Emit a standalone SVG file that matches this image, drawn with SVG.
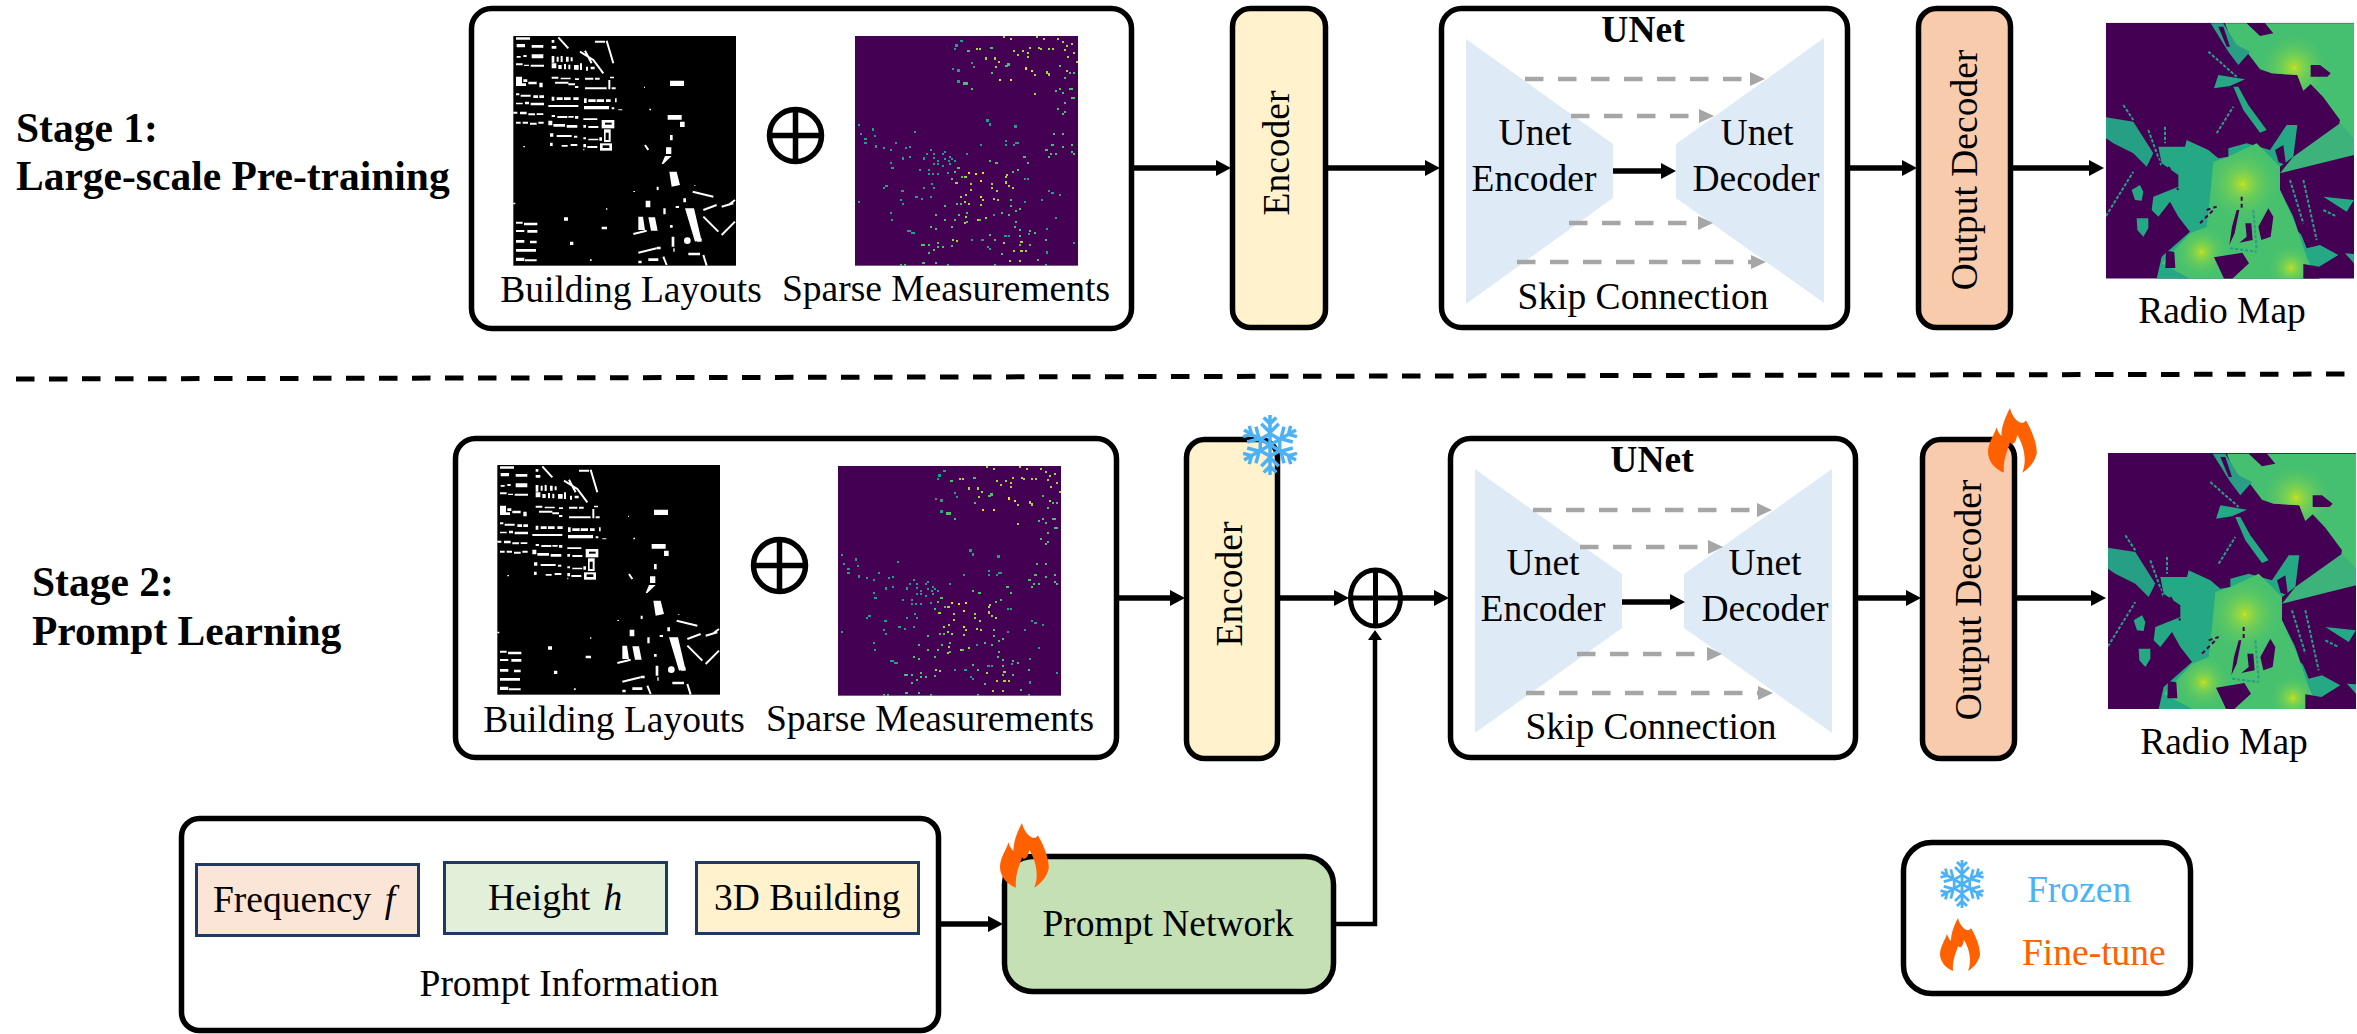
<svg xmlns="http://www.w3.org/2000/svg" width="2357" height="1034" viewBox="0 0 2357 1034">
<style>
text{font-family:"Liberation Serif","Times New Roman",serif;font-size:37.5px;fill:#000}
.mid{text-anchor:middle}
.stage{font-size:41.5px;font-weight:bold}
.bold{font-weight:bold}
.frame{fill:#fff;stroke:#000;stroke-width:5.5}
.enc{fill:#fff2cc;stroke:#000;stroke-width:5.5}
.dec{fill:#f8cbad;stroke:#000;stroke-width:5.5}
.pn{fill:#c5e0b4;stroke:#000;stroke-width:5.5}
.pb{stroke:#203864;stroke-width:3}
.ushape{fill:#deebf7}
.a{fill:none;stroke:#000;stroke-width:5.5;marker-end:url(#ah)}
.av{fill:none;stroke:#000;stroke-width:4.5;marker-end:url(#ahs)}
.s{fill:none;stroke:#a6a6a6;stroke-width:4.5;stroke-dasharray:18.5 14.5;marker-end:url(#gh)}
.op{fill:none;stroke:#000;stroke-width:5.5}
.dot{fill:none;stroke-width:7;stroke-linecap:square;shape-rendering:crispEdges}
</style>
<defs>
<marker id="ah" markerUnits="userSpaceOnUse" markerWidth="15" markerHeight="16" refX="0" refY="8" orient="auto"><path d="M0 0L15 8L0 16Z" fill="#000"/></marker>
<marker id="ahs" markerUnits="userSpaceOnUse" markerWidth="10" markerHeight="14" refX="0" refY="7" orient="auto"><path d="M0 0L10 7L0 14Z" fill="#000"/></marker>
<marker id="gh" markerUnits="userSpaceOnUse" markerWidth="15" markerHeight="14" refX="0" refY="7" orient="auto"><path d="M0 0L15 7L0 14Z" fill="#a6a6a6"/></marker>
<radialGradient id="hot"><stop offset="0" stop-color="#d8e219"/><stop offset=".07" stop-color="#a8db34"/><stop offset=".35" stop-color="#7ad151" stop-opacity=".9"/><stop offset="1" stop-color="#55c667" stop-opacity="0"/></radialGradient>
<clipPath id="rcA"><polygon points="405,40 470,40 510,78 550,70 525,40 792,40 792,430 748,340 750,330 700,262 662,222 640,242 622,195 545,190 510,178 470,125 430,105"/></clipPath>
<clipPath id="rcB"><polygon points="370,455 415,440 500,400 570,470 570,540 615,640 650,740 680,806 300,806 215,760 300,670 350,650 360,560"/></clipPath>
<clipPath id="rcF"><rect x="48" y="38" width="744" height="768"/></clipPath>

<g id="layout">
<rect x="40" y="18" width="668" height="689" fill="#000"/>
<path fill="#fff" d="M48 22h42v7h-42zM50 42h25v10h-25zM95 45h35v8h-35zM155 30h8v8h-8zM155 48h14v8h-14zM285 32h30v6h-30zM50 78h12v5h-12zM70 75h10v6h-10zM95 73h35v12h-35zM48 100h20v6h-20zM72 104h15v4h-15zM92 104h40v6h-40zM155 78h8v20h-8zM170 80h6v15h-6zM182 78h6v18h-6zM198 80h8v15h-8zM212 82h6v12h-6zM155 100h14v15h-14zM175 105h10v12h-10zM192 102h6v16h-6zM205 104h6v14h-6zM222 105h14v14h-14zM240 100h6v20h-6zM258 110h6v12h-6zM272 110h12v8h-12zM48 140h18v20h-18zM70 148h12v8h-12zM48 160h30v8h-30zM85 155h25v8h-25zM118 158h10v14h-10zM155 140h20v6h-20zM182 143h30v5h-30zM225 145h12v5h-12zM255 143h25v6h-25zM285 143h14v6h-14zM330 140h12v5h-12zM165 155h40v6h-40zM205 160h20v6h-20zM225 168h10v6h-10zM255 172h65v6h-65zM325 150h6v28h-6zM335 172h12v6h-12zM48 190h10v6h-10zM62 194h30v6h-30zM100 196h14v8h-14zM118 196h14v8h-14zM48 218h20v5h-20zM75 215h12v8h-12zM92 218h40v8h-40zM155 200h8v12h-8zM170 202h18v8h-18zM192 202h20v8h-20zM220 202h16v8h-16zM145 225h90v6h-90zM252 205h8v14h-8zM265 208h22v8h-22zM290 208h22v8h-22zM318 208h14v8h-14zM345 205h5v12h-5zM252 228h75v10h-75zM335 232h8v6h-8zM355 238h12v3h-12zM40 245h12v6h-12zM60 245h20v8h-20zM85 250h20v6h-20zM110 250h20v5h-20zM48 275h14v6h-14zM68 275h16v6h-16zM90 278h20v6h-20zM115 275h16v6h-16zM155 255h10v6h-10zM172 258h30v6h-30zM205 258h16v5h-16zM225 258h10v8h-10zM250 265h42v5h-42zM145 272h12v14h-12zM160 282h35v8h-35zM200 285h32v8h-32zM250 285h8v8h-8zM265 288h30v6h-30zM150 310h10v10h-10zM170 315h45v6h-45zM222 317h10v6h-10zM250 322h8v6h-8zM265 326h30v5h-30zM298 322h8v10h-8zM150 338h8v10h-8zM185 345h18v5h-18zM212 342h20v6h-20zM250 342h8v10h-8zM262 348h30v6h-30zM70 348h5v4h-5zM250 356h3v5h-3zM510 152h42v16h-42zM432 170h3v4h-3zM448 236h5v5h-5zM503 255h42v14h-42zM540 275h14v16h-14zM510 315h8v16h-8zM498 352h16v20h-16zM400 483h5v3h-5zM470 470h6v10h-6zM583 465h3v3h-3zM40 518h6v5h-6zM318 535h4v4h-4zM192 562h12v10h-12zM527 528h10v6h-10zM550 505h8v12h-8zM490 535h7v18h-7zM437 512h14v20h-14zM305 590h16v8h-16zM510 585h8v8h-8zM515 620h8v30h-8zM520 655h4v10h-4zM48 575h20v6h-20zM72 578h40v8h-40zM48 600h25v6h-25zM82 600h30v8h-30zM48 630h25v8h-25zM90 632h20v8h-20zM48 657h60v8h-60zM48 683h25v10h-25zM75 688h35v6h-35zM210 635h10v10h-10zM270 688h5v5h-5zM470 650h12v8h-12zM415 692h10v8h-10zM445 685h30v8h-30zM565 668h35v8h-35zM495 378h20l-25 24h-5zM508 425h22l10 40l-25 5zM555 535h27l21 90l-18 10zM415 560h14l6 40h-20zM445 562h20l8 40h-20zM590 625h15v10h-15z"/>
<rect x="305" y="270" width="38" height="25" fill="#fff"/><rect x="315" y="278" width="20" height="6" fill="#000"/>
<rect x="312" y="298" width="20" height="38" fill="#fff"/><rect x="317" y="308" width="9" height="22" fill="#000"/>
<rect x="300" y="340" width="36" height="22" fill="#fff"/><rect x="308" y="346" width="20" height="8" fill="#000"/>
<circle cx="562" cy="632" r="10" fill="#fff"/>
<path fill="none" stroke="#fff" stroke-width="6" d="M175 22L205 55M320 32L340 100M240 65L280 90L310 130M255 62L275 100M435 345L445 360M578 485L640 500M610 540L650 525M665 530L700 520M685 525L705 510M610 560L655 605M665 615L705 575M400 612L440 602M415 668L470 655M490 680L500 705M610 675L620 707"/>
</g>

<g id="sparse">
<rect x="15" y="18" width="669" height="689" fill="#440154"/>
<path class="dot" stroke="#1fa187" d="M335 33h0M320 47h0M315 58h0M367 100h0M310 117h0M326 122h0M372 112h0M326 155h0M413 272h0M420 284h0M497 290h0M27 285h0M33 312h0M69 299h0M75 318h0M47 327h0M47 339h0M195 306h0M138 339h0M78 350h0M102 354h0M123 360h0M159 386h0M181 381h0M180 352h0M168 354h0M123 399h0M128 414h0M210 420h0M222 386h0M231 372h0M243 360h0M252 372h0M252 384h0M264 393h0M252 402h0M264 402h0M279 408h0M285 366h0M279 372h0M300 381h0M285 387h0M306 387h0M297 393h0M315 393h0M300 402h0M237 420h0M237 432h0M264 433h0M249 432h0M468 333h0M468 345h0M498 339h0M504 339h0M492 345h0M393 345h0M351 372h0M27 516h0M102 474h0M110 468h0M158 484h0M200 501h0M222 474h0M252 474h0M246 462h0M216 507h0M243 501h0M159 522h0M153 510h0M123 549h0M127 570h0M175 603h0M181 603h0M187 609h0M193 609h0M525 516h0M576 510h0M597 484h0M608 489h0M630 495h0M525 447h0M534 447h0M618 564h0M432 555h0M398 630h0M414 651h0M420 657h0M367 630h0M467 618h0M477 618h0M537 612h0M592 597h0M592 668h0M672 639h0M294 430h0"/>
<path class="dot" stroke="#4ac16d" d="M356 63h0M425 54h0M342 161h0M350 161h0M367 177h0M426 129h0M476 104h0M470 108h0M645 144h0M618 183h0M630 177h0M639 189h0M660 177h0M666 177h0M645 219h0M624 237h0M645 246h0M639 252h0M666 204h0M672 204h0M660 129h0M672 129h0M630 108h0M666 345h0M666 366h0M672 372h0M639 312h0M612 312h0M639 352h0M608 345h0M590 360h0M603 372h0M618 372h0M597 381h0M524 381h0M534 399h0M440 399h0M420 393h0M504 420h0M489 426h0M315 426h0M326 414h0M306 447h0M336 441h0M258 555h0M285 528h0M285 570h0M306 591h0M327 555h0M321 522h0M333 522h0M351 549h0M351 576h0M315 570h0M456 549h0M477 555h0M498 543h0M510 537h0M483 528h0M483 510h0M510 600h0M498 576h0M495 592h0M540 603h0M555 609h0M510 618h0M435 630h0M420 615h0M390 570h0M306 648h0M222 645h0M216 645h0M237 669h0M252 660h0M237 645h0M264 651h0M279 651h0M264 639h0M243 591h0M258 597h0M221 699h0M258 699h0M153 705h0M165 705h0M435 705h0M294 705h0M588 705h0M456 672h0M510 645h0M540 645h0M565 690h0M588 630h0"/>
<path class="dot" stroke="#a0da39" d="M462 21h0M483 27h0M561 21h0M582 27h0M624 27h0M639 36h0M666 42h0M651 48h0M645 60h0M540 54h0M567 54h0M573 58h0M598 58h0M610 58h0M519 63h0M504 75h0M534 69h0M534 81h0M492 63h0M447 96h0M555 135h0M591 128h0M597 134h0M651 123h0M672 69h0M681 96h0M655 81h0M555 192h0M381 58h0M390 58h0M408 86h0M435 86h0M438 112h0M347 441h0M363 462h0M426 462h0M426 474h0M363 480h0M348 495h0M333 501h0M399 510h0M393 525h0M346 516h0M357 522h0M432 507h0M445 510h0M468 441h0M471 435h0M477 468h0M489 474h0M468 458h0M441 484h0M408 564h0M384 570h0M348 561h0M345 580h0M310 630h0M321 633h0M462 640h0M492 663h0M515 663h0M528 663h0M515 636h0M480 693h0M510 693h0M320 460h0"/>
<path class="dot" stroke="#e5e419" d="M529 116h0M546 123h0M483 150h0M450 150h0M378 432h0M393 453h0M357 429h0M399 430h0M393 501h0"/>
</g>

<g id="radio" clip-path="url(#rcF)">
<rect x="48" y="38" width="744" height="768" fill="#440154"/>
<polygon fill="#45bf70" points="405,40 470,40 510,78 550,70 525,40 792,40 792,430 748,340 750,330 700,262 662,222 640,242 622,195 545,190 510,178 470,125 430,105"/>
<circle cx="613" cy="173" r="100" fill="url(#hot)" clip-path="url(#rcA)"/>
<polygon fill="#440154" points="662,165 690,165 722,190 712,200 662,200"/>
<polygon fill="#2a9d85" points="362,40 400,40 440,105 480,125 445,165 415,125"/>
<polygon fill="#440154" points="385,50 400,50 420,110 410,110"/>
<polygon fill="#25a884" points="385,195 465,208 420,228 372,235"/>
<polygon fill="#25a884" points="430,230 445,230 475,285 530,360 510,368 460,300"/>
<polygon fill="#3db27a" points="750,340 792,385 792,435 570,490 610,440"/>
<polygon fill="#25a085" points="48,322 130,335 190,430 170,470 130,430 70,400 48,385"/>
<polygon fill="#25a884" points="205,410 285,410 290,390 355,420 385,445 415,440 415,415 470,400 540,420 590,345 622,345 610,440 570,470 570,540 620,640 650,715 690,705 745,735 680,775 685,806 200,806 215,740 300,665 265,620 240,575 205,620 185,600 190,560 265,530 265,495 215,460"/>
<polygon fill="#48c16e" points="370,455 415,440 500,400 570,470 570,540 615,640 650,740 680,806 300,806 215,760 300,670 350,650 360,560"/>
<g clip-path="url(#rcB)"><circle cx="458" cy="522" r="105" fill="url(#hot)"/><circle cx="335" cy="726" r="75" fill="url(#hot)"/><circle cx="603" cy="773" r="65" fill="url(#hot)"/></g>
<path fill="#440154" d="M440 600h8l-14 70l-16 35l8 -55zM466 640h18l4 50l-40 8l22 -18zM505 650l30 -55l15 25l-8 60l-28 10zM372 742l85 -14l20 32l-50 46h-25l-12 -26zM610 620l20 5l15 60l-20 -20zM228 722l25 4l3 48h-30zM640 762l48 8v36h-48zM555 420l25 -15l8 60l-22 -8z"/>
<path fill="#25a884" d="M125 540l25 -15l10 20l-5 27l-20 -2zM140 625h35v30l-15 25l-18 -20zM700 560l92 10l-22 35zM765 730l27 2v28z"/>
<path fill="none" stroke="#2a9d85" stroke-width="6" stroke-dasharray="10 5" d="M48 618L130 485M175 360L215 470M225 350V400M100 285L130 330M355 125L440 200M380 370L430 290M640 510L680 690M600 510L640 640M700 600L740 620M490 600L500 720M420 715L500 725"/>
<path fill="none" stroke="#440154" stroke-width="6" stroke-dasharray="12 9" d="M190 430L265 540M235 470L265 520M350 600L380 590M330 640L370 600M455 560V600"/>
</g>

<path id="flameShape" fill="#ff6000" d="M18 0C20 9 28 16 31 10C38 22 40 31 40 37C38 45 33 50 28 53C32 44 30 32 24 22C23 29 20 31 18 28C17 33 12 41 13 53C6 50 0 44 0 36C0 29 5 22 7 16C8 19 9 21 11 23C11 14 15 6 18 0Z"/>
<g id="snow" fill="none" stroke="#4db2f5" stroke-width="2.8">
<path id="arm" d="M0 0V-24M-5 -22L0 -17L5 -22M-7 -17L0 -10L7 -17"/>
<use href="#arm" transform="rotate(60)"/><use href="#arm" transform="rotate(120)"/><use href="#arm" transform="rotate(180)"/><use href="#arm" transform="rotate(240)"/><use href="#arm" transform="rotate(300)"/>
<polygon points="0,-9 7.8,-4.5 7.8,4.5 0,9 -7.8,4.5 -7.8,-4.5"/>
</g>
</defs>

<g id="stage-labels">
<text class="stage" x="16" y="142">Stage 1:</text>
<text class="stage" x="16" y="190">Large-scale Pre-training</text>
<text class="stage" x="32" y="596">Stage 2:</text>
<text class="stage" x="32" y="645">Prompt Learning</text>
<path d="M16 379L2357 374" fill="none" stroke="#000" stroke-width="5" stroke-dasharray="18.5 14.5"/>
</g>

<g id="input-1">
<rect class="frame" x="471.5" y="8.5" width="660" height="320" rx="20"/>
<use href="#layout" transform="translate(500 30) scale(.33333)"/>
<use href="#sparse" transform="translate(850 30) scale(.33333)"/>
<ellipse class="op" cx="795.5" cy="135.5" rx="26" ry="26"/>
<path class="op" d="M769.5 135.5H821.5M795.5 109.5V161.5"/>
<text class="mid" x="631" y="302">Building Layouts</text>
<text class="mid" x="946" y="301">Sparse Measurements</text>
</g>
<g id="encoder-1">
<rect class="enc" x="1232.5" y="8.5" width="93" height="319" rx="18"/>
<text class="mid" transform="translate(1289 153) rotate(-90)">Encoder</text>
</g>
<g id="unet-1">
<rect class="frame" x="1441.5" y="8.5" width="406" height="319" rx="20"/>
<polygon class="ushape" points="1466,39 1613,144 1613,198 1466,304"/>
<polygon class="ushape" points="1824,38 1676,144 1676,198 1824,303"/>
<text class="mid bold" x="1643" y="42">UNet</text>
<text class="mid" x="1535" y="145">Unet</text>
<text class="mid" x="1534" y="191">Encoder</text>
<text class="mid" x="1757" y="145">Unet</text>
<text class="mid" x="1756" y="191">Decoder</text>
<text class="mid" x="1643" y="309">Skip Connection</text>
</g>
<g id="decoder-1">
<rect class="dec" x="1918.5" y="8.5" width="92" height="319" rx="18"/>
<text class="mid" transform="translate(1977 170) rotate(-90)">Output Decoder</text>
</g>
<g id="radio-map-1">
<use href="#radio" transform="translate(2090 10) scale(.33333)"/>
<text class="mid" x="2222" y="323">Radio Map</text>
</g>

<g id="input-2">
<rect class="frame" x="455.5" y="438.5" width="661" height="319" rx="20"/>
<use href="#layout" transform="translate(484 459) scale(.33333)"/>
<use href="#sparse" transform="translate(833 460) scale(.33333)"/>
<ellipse class="op" cx="779.5" cy="565.5" rx="26" ry="26"/>
<path class="op" d="M753.5 565.5H805.5M779.5 539.5V591.5"/>
<text class="mid" x="614" y="732">Building Layouts</text>
<text class="mid" x="930" y="731">Sparse Measurements</text>
</g>
<g id="encoder-2">
<rect class="enc" x="1186.5" y="439.5" width="91" height="319" rx="18"/>
<text class="mid" transform="translate(1242 584) rotate(-90)">Encoder</text>
<use href="#snow" transform="translate(1270 445) scale(1.25)"/>
</g>
<g id="merge">
<ellipse fill="#fff" stroke="#000" stroke-width="5" cx="1375.5" cy="598" rx="25" ry="28"/>
<path fill="none" stroke="#000" stroke-width="5" d="M1351 598H1400M1375.5 570V626"/>
</g>
<g id="unet-2">
<rect class="frame" x="1450.5" y="438.5" width="405" height="319" rx="20"/>
<polygon class="ushape" points="1475,469 1622,574 1622,628 1475,733"/>
<polygon class="ushape" points="1832,469 1684,574 1684,628 1832,733"/>
<text class="mid bold" x="1652" y="472">UNet</text>
<text class="mid" x="1543" y="575">Unet</text>
<text class="mid" x="1543" y="621">Encoder</text>
<text class="mid" x="1765" y="575">Unet</text>
<text class="mid" x="1765" y="621">Decoder</text>
<text class="mid" x="1651" y="739">Skip Connection</text>
</g>
<g id="decoder-2">
<rect class="dec" x="1922.5" y="439.5" width="92" height="319" rx="18"/>
<text class="mid" transform="translate(1981 600) rotate(-90)">Output Decoder</text>
<use href="#flameShape" transform="translate(1988 408) scale(1.22)"/>
</g>
<g id="radio-map-2">
<use href="#radio" transform="translate(2092 440.33) scale(.33333)"/>
<text class="mid" x="2224" y="754">Radio Map</text>
</g>

<g id="prompt-information">
<rect class="frame" x="181.5" y="818.5" width="757" height="212" rx="18"/>
<rect class="pb" fill="#fbe5d6" x="196.5" y="864.5" width="222" height="71"/>
<rect class="pb" fill="#e2f0d9" x="444.5" y="862.5" width="222" height="71"/>
<rect class="pb" fill="#fff2cc" x="696.5" y="862.5" width="222" height="71"/>
<text x="213" y="912">Frequency <tspan font-style="italic" dx="4">f</tspan></text>
<text x="488" y="910">Height <tspan font-style="italic" dx="4">h</tspan></text>
<text x="714" y="910">3D Building</text>
<text class="mid" x="569" y="996">Prompt Information</text>
</g>
<g id="prompt-network">
<rect class="pn" x="1004.5" y="856.5" width="329" height="135" rx="28"/>
<text class="mid" x="1168" y="936">Prompt Network</text>
<use href="#flameShape" transform="translate(1000 823) scale(1.22)"/>
</g>
<g id="legend">
<rect class="frame" x="1903.5" y="842.5" width="287" height="151" rx="28"/>
<use href="#snow" transform="translate(1962 884)"/>
<use href="#flameShape" transform="translate(1940 918)"/>
<text x="2027" y="902" style="fill:#4db2f5">Frozen</text>
<text x="2022" y="965" style="fill:#ff6000">Fine-tune</text>
</g>

<g id="connectors">
<path class="a" d="M1133 168H1216"/>
<path class="a" d="M1327 168H1425"/>
<path class="a" d="M1849 168H1902"/>
<path class="a" d="M2012 168H2089"/>
<path class="a" d="M1613 171H1661"/>
<path class="s" d="M1525 79H1750"/>
<path class="s" d="M1571 116H1699"/>
<path class="s" d="M1569 223H1698"/>
<path class="s" d="M1517 262H1751"/>
<path class="a" d="M1117 598H1170"/>
<path class="a" d="M1279 598H1334"/>
<path class="a" d="M1400 598H1434"/>
<path class="a" d="M1857 598H1906"/>
<path class="a" d="M2016 598H2091"/>
<path class="a" d="M1622 602H1670"/>
<path class="s" d="M1533 510H1757"/>
<path class="s" d="M1580 547H1708"/>
<path class="s" d="M1577 654H1707"/>
<path class="s" d="M1526 693H1758"/>
<path class="a" d="M939 924H988"/>
<path class="av" d="M1335 924H1375V640"/>
</g>
</svg>
